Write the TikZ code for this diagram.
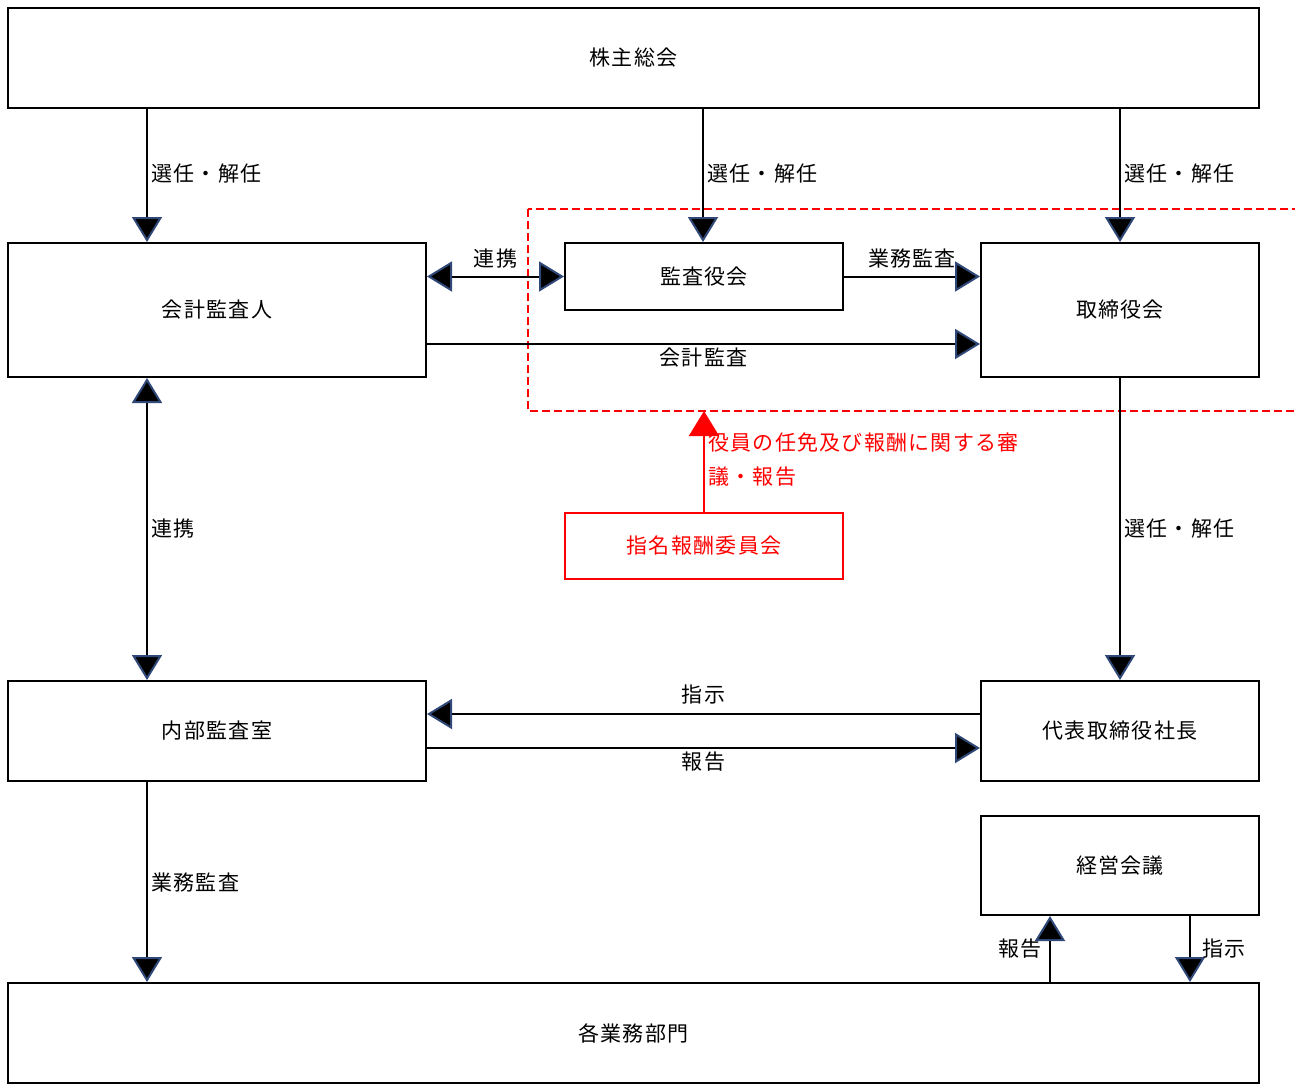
\documentclass[tikz,border=0pt]{standalone}
\usepackage{fontspec}
\setmainfont{Noto Sans CJK JP}[LetterSpace=6]
\usepackage{tikz}
\usetikzlibrary{arrows.meta}
\usetikzlibrary{calc}
\definecolor{tipblue}{RGB}{47,72,120}
\begin{document}
\begin{tikzpicture}[x=1pt,y=-1pt,
  font=\fontsize{21}{25}\selectfont,
  box/.style={draw, line width=2pt, inner sep=0pt},
  redbox/.style={box, draw=red, text=red},
  arr/.style={line width=2pt, -{Triangle[width=30pt,length=25pt,fill=black,color=tipblue]}},
  dblarr/.style={line width=2pt, {Triangle[width=30pt,length=25pt,fill=black,color=tipblue]}-{Triangle[width=30pt,length=25pt,fill=black,color=tipblue]}},
  redarr/.style={line width=2pt, draw=red, -{Triangle[width=30pt,length=25pt,fill=red,color=red]}},
  dashbox/.style={draw=red, line width=2pt, dash pattern=on 8pt off 4pt}]
  \useasboundingbox (0,0) rectangle (1295,1084);

  % Nodes
  \node[box, minimum width=1251pt, minimum height=100pt] (soukai) at (633.5,58) {株主総会};
  \node[box, minimum width=418pt, minimum height=134pt] (kaikei) at (217,310) {会計監査人};
  \node[box, minimum width=278pt, minimum height=67pt] (kansa) at (704,276.5) {監査役会};
  \node[box, minimum width=278pt, minimum height=134pt] (torishimari) at (1120,310) {取締役会};
  \node[redbox, minimum width=278pt, minimum height=66pt] (shimei) at (704,546) {指名報酬委員会};
  \node[box, minimum width=418pt, minimum height=100pt] (naibu) at (217,731) {内部監査室};
  \node[box, minimum width=278pt, minimum height=100pt] (shachou) at (1120,731) {代表取締役社長};
  \node[box, minimum width=278pt, minimum height=99pt] (keiei) at (1120,865.5) {経営会議};
  \node[box, minimum width=1251pt, minimum height=100pt] (bumon) at (633.5,1033) {各業務部門};

  % Dashed area
  \coordinate (dashNW) at (528,209);
  \coordinate (dashSE) at (1300,411);
  \draw[dashbox] (dashNW) rectangle (dashSE);

  % Helper coordinates
  \coordinate (xl) at (147,0);
  \coordinate (xm) at (703,0);
  \coordinate (xr) at (1120,0);
  \coordinate (xh) at (1050,0);
  \coordinate (xs) at (1190,0);
  \coordinate (yk) at (0,344);
  \coordinate (yo) at (0,714);
  \coordinate (yh) at (0,748);

  % Connectors
  \draw[arr] (soukai.south -| xl) -- node[right, yshift=2pt] {選任・解任} (kaikei.north -| xl);
  \draw[arr] (soukai.south -| xm) -- node[right, yshift=2pt] {選任・解任} (kansa.north -| xm);
  \draw[arr] (soukai.south -| xr) -- node[right, yshift=2pt] {選任・解任} (torishimari.north -| xr);
  \draw[dblarr] (kaikei.east |- kansa.west) -- node[above=4pt] {連携} (kansa.west);
  \draw[arr] (kansa.east) -- node[above=4pt] {業務監査} (torishimari.west |- kansa.east);
  \draw[arr] (kaikei.east |- yk) -- node[below] {会計監査} (torishimari.west |- yk);
  \draw[dblarr] (kaikei.south -| xl) -- node[right] {連携} (naibu.north -| xl);
  \draw[arr] (torishimari.south -| xr) -- node[right] {選任・解任} (shachou.north -| xr);
  \draw[arr] (shachou.west |- yo) -- node[above=5pt] {指示} (naibu.east |- yo);
  \draw[arr] (naibu.east |- yh) -- node[below] {報告} (shachou.west |- yh);
  \draw[arr] (naibu.south -| xl) -- node[right] {業務監査} (bumon.north -| xl);
  \draw[arr] (bumon.north -| xh) -- node[left=4pt] {報告} (keiei.south -| xh);
  \draw[arr] (keiei.south -| xs) -- node[right=8pt] {指示} (bumon.north -| xs);
  \draw[redarr] (shimei.north) -- node[right, align=left, text=red, yshift=2pt, font=\fontsize{21}{34}\selectfont] {役員の任免及び報酬に関する審\\議・報告} (shimei.north |- dashSE);

\end{tikzpicture}
\end{document}
